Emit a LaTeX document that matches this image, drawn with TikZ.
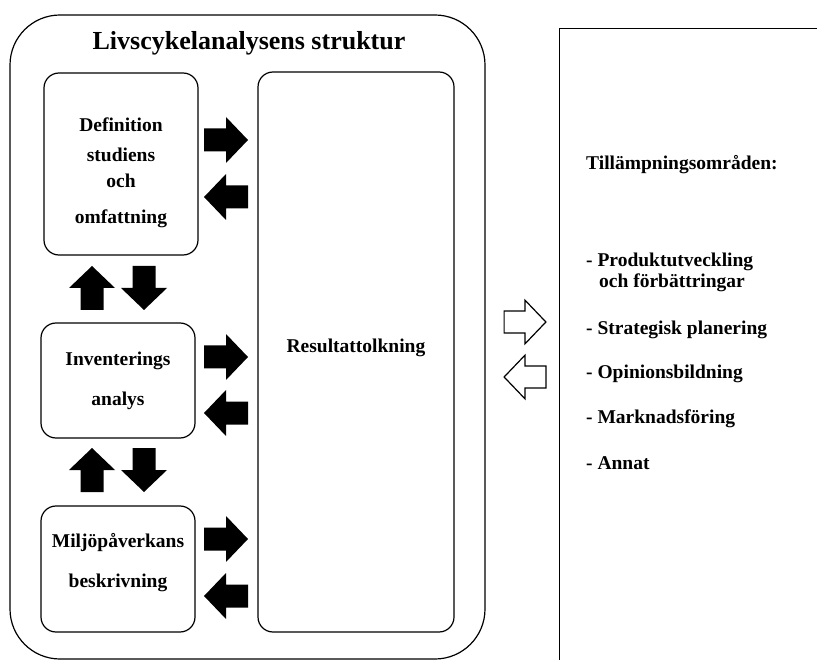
\documentclass[tikz,border=0pt]{standalone}
\usepackage{fontspec}
\setmainfont{Liberation Serif}

\tikzset{
	every node/.style={font=\fontsize{19.5}{21}\selectfont\bfseries},
	stagebox/.style={draw, line width=1.2pt, rounded corners=15pt, minimum width=154pt, inner sep=0pt},
	boxtext/.style={align=center, inner sep=0pt},
	listitem/.style={anchor=west, align=left, inner sep=0pt},
	blockarrow/.pic={
		\path[pic actions] (-22,-11.5) -- (0,-11.5) -- (0,-23) -- (22,0) -- (0,23) -- (0,11.5) -- (-22,11.5) -- cycle;
	}
}

\begin{document}
\begin{tikzpicture}[x=1pt, y=-1pt]
		\useasboundingbox (0,0) rectangle (817,660);
		\clip (0,0) rectangle (817,660);
		
		% Yttre ram
		\node[draw, line width=1.2pt, rounded corners=50pt, minimum width=475pt, minimum height=644pt, inner sep=0pt] (frame) at (247.5,337) {};
		\node[font=\fontsize{26}{28}\selectfont\bfseries] (title) at (249,43) {Livscykelanalysens struktur};
		
		% Faser
		\node[stagebox, minimum height=182pt] (defbox) at (121,164) {};
		\node[stagebox, minimum height=115pt] (invbox) at (118,380.5) {};
		\node[stagebox, minimum height=126pt] (miljobox) at (118,569) {};
		\node[stagebox, minimum width=196pt, minimum height=560pt] (resbox) at (356,352) {};
		
		\node[boxtext] (deftext) at ([yshift=-9pt]defbox.center) {Definition\\[9pt]studiens\\[5pt]och\\[15pt]omfattning};
		\node[boxtext] (invtext) at (invbox.center) {Inventerings\\[19pt]analys};
		\node[boxtext] (miljotext) at ([yshift=6pt]miljobox.center) {Miljöpåverkans\\[19pt]beskrivning};
		\node[boxtext] (restext) at ([yshift=4pt]resbox.center) {Resultattolkning};
		
		% Svarta pilar
		\foreach \y in {140,357,539} {
			\pic[fill=black] at (226,\y) {blockarrow};
		}
		\foreach \y in {197,413,596} {
			\pic[fill=black, rotate=180] at (226,\y) {blockarrow};
		}
		\foreach \y in {288,470} {
			\pic[fill=black, rotate=90] at (92,\y) {blockarrow};
			\pic[fill=black, rotate=-90] at (144,\y) {blockarrow};
		}
		
		% Tillämpning
		\pic[draw, fill=white, line width=1.2pt, scale=0.95] at (525,322) {blockarrow};
		\pic[draw, fill=white, line width=1.2pt, scale=0.95, rotate=180] at (525,377) {blockarrow};
		
		\node[draw, line width=1pt, minimum width=300pt, minimum height=700pt, anchor=north west, inner sep=0pt] (appbox) at (559,28) {};
		\node[listitem] (apptitle) at (586,165) {Tillämpningsområden:};
		\node[listitem] (item1) at (586,272.5) {- Produktutveckling\\\hspace*{13pt}och förbättringar};
		\foreach \txt/\ypos [count=\k from 2] in {Strategisk planering/330, Opinionsbildning/374, Marknadsföring/419, Annat/463} {
			\node[listitem] (item\k) at (586,\ypos) {- \txt};
		}
\end{tikzpicture}
\end{document}
